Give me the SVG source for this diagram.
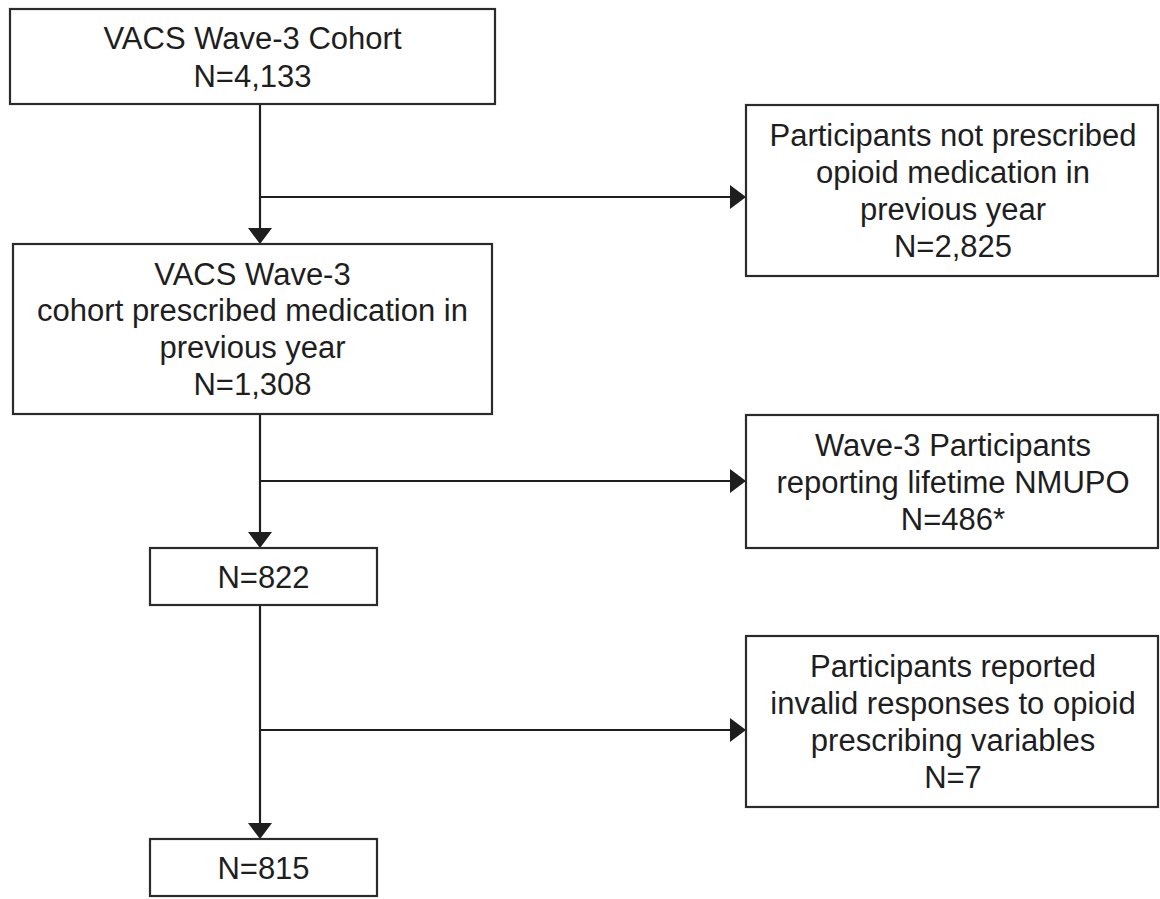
<svg xmlns="http://www.w3.org/2000/svg" width="1160" height="899" viewBox="0 0 1160 899">
<style>
.box{fill:#fff;stroke:#2b2b2b;stroke-width:2.2}
.t{font-family:"Liberation Sans",Arial,sans-serif;font-size:31px;fill:#1e1e1e;text-anchor:middle}
.ln{stroke:#1e1e1e;stroke-width:2.2;fill:none}
.ah{fill:#1e1e1e}
</style>
<rect width="1160" height="899" fill="#fff"/>
<g id="connectors">
<line class="ln" x1="260" y1="104" x2="260" y2="230"/>
<polygon class="ah" points="248,228 272,228 260,244"/>
<line class="ln" x1="260" y1="197" x2="732" y2="197"/>
<polygon class="ah" points="730,185 730,209 746,197"/>
<line class="ln" x1="260" y1="414" x2="260" y2="534"/>
<polygon class="ah" points="248,532 272,532 260,548"/>
<line class="ln" x1="260" y1="481" x2="732" y2="481"/>
<polygon class="ah" points="730,469 730,493 746,481"/>
<line class="ln" x1="260" y1="605" x2="260" y2="825"/>
<polygon class="ah" points="248,823 272,823 260,839"/>
<line class="ln" x1="260" y1="730" x2="732" y2="730"/>
<polygon class="ah" points="730,718 730,742 746,730"/>
</g>
<g id="n1">
<rect class="box" x="10" y="9" width="485" height="95"/>
<text class="t" x="252.5" y="49">VACS Wave-3 Cohort</text>
<text class="t" x="252.5" y="87">N=4,133</text>
</g>
<g id="n2">
<rect class="box" x="746" y="105" width="412" height="171"/>
<text class="t" x="953" y="146">Participants not prescribed</text>
<text class="t" x="953" y="183">opioid medication in</text>
<text class="t" x="953" y="220">previous year</text>
<text class="t" x="953" y="257">N=2,825</text>
</g>
<g id="n3">
<rect class="box" x="13" y="244" width="479" height="170"/>
<text class="t" x="252.5" y="285">VACS Wave-3</text>
<text class="t" x="252.5" y="321">cohort prescribed medication in</text>
<text class="t" x="252.5" y="358">previous year</text>
<text class="t" x="252.5" y="395">N=1,308</text>
</g>
<g id="n4">
<rect class="box" x="746" y="415" width="412" height="133"/>
<text class="t" x="953" y="456">Wave-3 Participants</text>
<text class="t" x="953" y="493">reporting lifetime NMUPO</text>
<text class="t" x="953" y="530">N=486*</text>
</g>
<g id="n5">
<rect class="box" x="150" y="548" width="227" height="57"/>
<text class="t" x="263.5" y="588">N=822</text>
</g>
<g id="n6">
<rect class="box" x="746" y="636" width="412" height="171"/>
<text class="t" x="953" y="677">Participants reported</text>
<text class="t" x="953" y="714">invalid responses to opioid</text>
<text class="t" x="953" y="751">prescribing variables</text>
<text class="t" x="953" y="788">N=7</text>
</g>
<g id="n7">
<rect class="box" x="150" y="839" width="227" height="57"/>
<text class="t" x="263.5" y="879">N=815</text>
</g>
</svg>
